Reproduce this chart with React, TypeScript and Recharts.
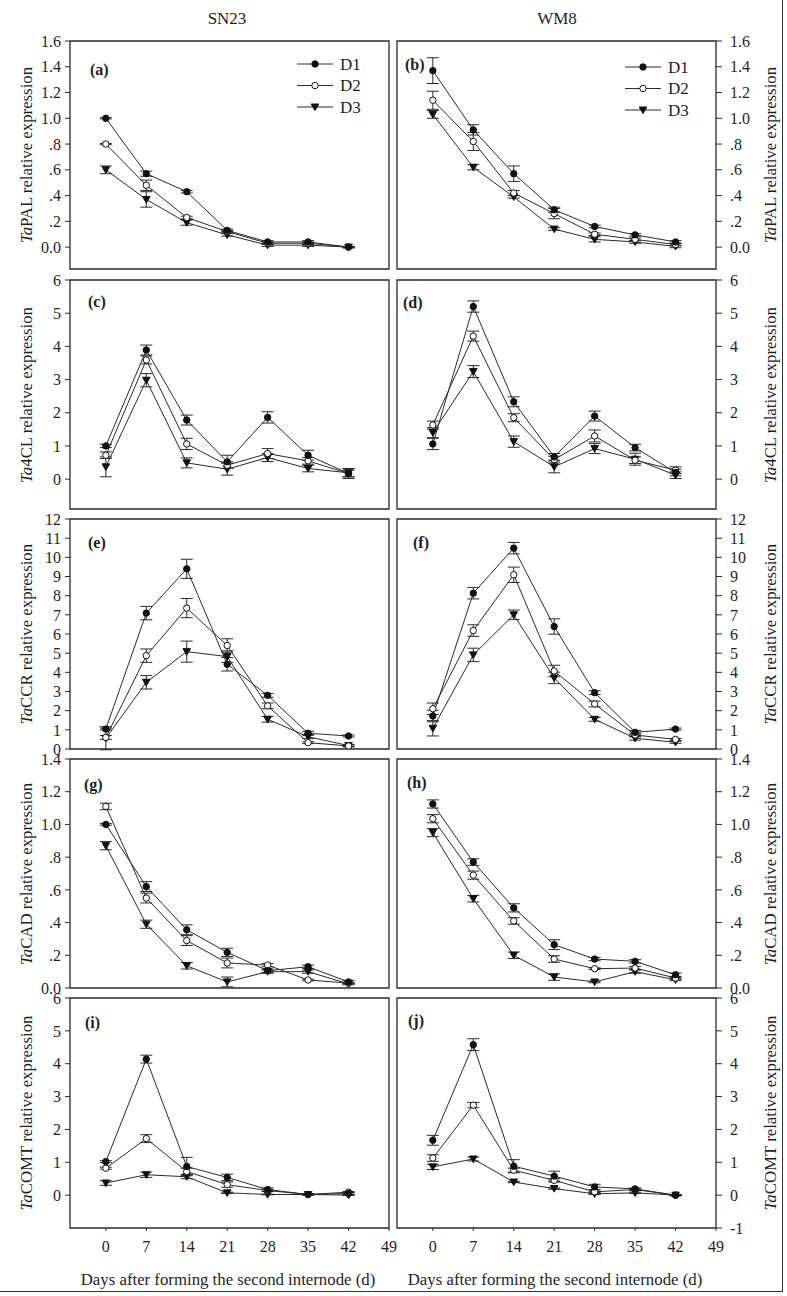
import React from "react";
import { LineChart, Line, XAxis, YAxis, ErrorBar, ReferenceArea } from "recharts";

// sampling days
const days = [0, 7, 14, 21, 28, 35, 42];
const xTicks = [0, 7, 14, 21, 28, 35, 42, 49];

// TaPAL
const palSnD1 = [1.0, 0.57, 0.43, 0.13, 0.04, 0.04, 0.0];
const palSnD2 = [0.8, 0.48, 0.23, 0.12, 0.03, 0.03, 0.0];
const palSnD3 = [0.6, 0.37, 0.19, 0.095, 0.015, 0.015, 0.0];
const palSnD1Err = [0.005, 0.02, 0.01, 0.01, 0.01, 0.01, 0.005];
const palSnD2Err = [0.005, 0.04, 0.01, 0.01, 0.01, 0.01, 0.005];
const palSnD3Err = [0.03, 0.06, 0.02, 0.01, 0.01, 0.01, 0.005];
const palWmD1 = [1.37, 0.91, 0.57, 0.29, 0.16, 0.095, 0.04];
const palWmD2 = [1.14, 0.82, 0.42, 0.26, 0.1, 0.06, 0.02];
const palWmD3 = [1.03, 0.62, 0.39, 0.14, 0.06, 0.04, 0.005];
const palWmD1Err = [0.1, 0.04, 0.06, 0.02, 0.01, 0.01, 0.01];
const palWmD2Err = [0.07, 0.07, 0.02, 0.04, 0.01, 0.01, 0.01];
const palWmD3Err = [0.03, 0.02, 0.01, 0.01, 0.02, 0.01, 0.01];

// Ta4CL
const clSnD1 = [1.0, 3.89, 1.78, 0.52, 1.86, 0.72, 0.17];
const clSnD2 = [0.72, 3.59, 1.06, 0.42, 0.77, 0.55, 0.17];
const clSnD3 = [0.37, 2.98, 0.49, 0.3, 0.65, 0.32, 0.19];
const clSnD1Err = [0.05, 0.15, 0.15, 0.2, 0.17, 0.15, 0.15];
const clSnD2Err = [0.1, 0.12, 0.17, 0.1, 0.15, 0.1, 0.1];
const clSnD3Err = [0.3, 0.2, 0.15, 0.18, 0.12, 0.1, 0.12];
const clWmD1 = [1.06, 5.2, 2.33, 0.67, 1.9, 0.95, 0.2];
const clWmD2 = [1.63, 4.31, 1.85, 0.59, 1.3, 0.57, 0.27];
const clWmD3 = [1.4, 3.24, 1.13, 0.37, 0.92, 0.6, 0.12];
const clWmD1Err = [0.17, 0.17, 0.15, 0.1, 0.15, 0.1, 0.1];
const clWmD2Err = [0.12, 0.15, 0.12, 0.1, 0.18, 0.1, 0.1];
const clWmD3Err = [0.15, 0.18, 0.17, 0.18, 0.15, 0.18, 0.1];

// TaCCR
const ccrSnD1 = [1.04, 7.09, 9.4, 4.42, 2.8, 0.82, 0.68];
const ccrSnD2 = [0.6, 4.87, 7.35, 5.4, 2.25, 0.33, 0.16];
const ccrSnD3 = [0.56, 3.48, 5.08, 4.82, 1.55, 0.64, 0.18];
const ccrSnD1Err = [0.05, 0.35, 0.5, 0.35, 0.1, 0.1, 0.05];
const ccrSnD2Err = [0.1, 0.35, 0.5, 0.35, 0.15, 0.05, 0.05];
const ccrSnD3Err = [0.6, 0.35, 0.55, 0.3, 0.15, 0.1, 0.05];
const ccrWmD1 = [1.72, 8.13, 10.48, 6.39, 2.94, 0.87, 1.04];
const ccrWmD2 = [2.1, 6.18, 9.09, 4.07, 2.35, 0.73, 0.5];
const ccrWmD3 = [1.08, 4.91, 7.0, 3.71, 1.55, 0.56, 0.35];
const ccrWmD1Err = [0.3, 0.3, 0.3, 0.4, 0.1, 0.1, 0.05];
const ccrWmD2Err = [0.3, 0.3, 0.4, 0.3, 0.15, 0.1, 0.05];
const ccrWmD3Err = [0.4, 0.35, 0.25, 0.3, 0.1, 0.1, 0.05];

// TaCAD
const cadSnD1 = [1.0, 0.62, 0.356, 0.218, 0.106, 0.13, 0.037];
const cadSnD2 = [1.11, 0.55, 0.29, 0.153, 0.14, 0.049, 0.03];
const cadSnD3 = [0.87, 0.39, 0.136, 0.037, 0.1, 0.1, 0.025];
const cadSnD1Err = [0.005, 0.03, 0.03, 0.025, 0.01, 0.01, 0.01];
const cadSnD2Err = [0.02, 0.03, 0.03, 0.03, 0.01, 0.005, 0.005];
const cadSnD3Err = [0.025, 0.025, 0.02, 0.03, 0.01, 0.01, 0.005];
const cadWmD1 = [1.125, 0.77, 0.49, 0.265, 0.177, 0.163, 0.081];
const cadWmD2 = [1.035, 0.69, 0.41, 0.177, 0.118, 0.122, 0.061];
const cadWmD3 = [0.95, 0.546, 0.2, 0.067, 0.037, 0.1, 0.05];
const cadWmD1Err = [0.025, 0.02, 0.025, 0.03, 0.01, 0.01, 0.01];
const cadWmD2Err = [0.025, 0.025, 0.02, 0.02, 0.005, 0.01, 0.005];
const cadWmD3Err = [0.025, 0.02, 0.02, 0.02, 0.005, 0.01, 0.005];

// TaCOMT
const comtSnD1 = [1.02, 4.14, 0.87, 0.54, 0.17, 0.02, 0.05];
const comtSnD2 = [0.82, 1.72, 0.72, 0.32, 0.14, 0.02, 0.09];
const comtSnD3 = [0.37, 0.62, 0.56, 0.07, 0.02, 0.02, 0.0];
const comtSnD1Err = [0.03, 0.12, 0.28, 0.1, 0.05, 0.02, 0.03];
const comtSnD2Err = [0.03, 0.12, 0.1, 0.08, 0.03, 0.02, 0.02];
const comtSnD3Err = [0.07, 0.08, 0.06, 0.02, 0.01, 0.01, 0.01];
const comtWmD1 = [1.67, 4.58, 0.88, 0.58, 0.25, 0.19, 0.0];
const comtWmD2 = [1.13, 2.74, 0.76, 0.45, 0.1, 0.17, 0.0];
const comtWmD3 = [0.86, 1.1, 0.4, 0.2, 0.04, 0.07, 0.0];
const comtWmD1Err = [0.15, 0.18, 0.2, 0.15, 0.08, 0.03, 0.02];
const comtWmD2Err = [0.1, 0.08, 0.06, 0.05, 0.02, 0.02, 0.02];
const comtWmD3Err = [0.08, 0.06, 0.02, 0.02, 0.02, 0.02, 0.01];

// tick values
const ticks16 = [0, 0.2, 0.4, 0.6, 0.8, 1.0, 1.2, 1.4, 1.6];
const ticks14 = [0, 0.2, 0.4, 0.6, 0.8, 1.0, 1.2, 1.4];
const ticks6 = [0, 1, 2, 3, 4, 5, 6];
const ticks6neg = [-1, 0, 1, 2, 3, 4, 5, 6];
const ticks12 = [0, 1, 2, 3, 4, 5, 6, 7, 8, 9, 10, 11, 12];

const FONT = "'Liberation Serif', 'Times New Roman', serif";
const INK = "#2a2a2a";
const X_MIN = -6.2;
const X_MAX = 49;

const decFmt = (v: number) =>
  v === 0 ? "0.0" : v < 1 ? "." + Math.round(v * 10) : v.toFixed(1);
const intFmt = (v: number) => String(v);

const buildRows = (
  a: number[], ae: number[], b: number[], be: number[], c: number[], ce: number[]
) =>
  days.map((day, i) => ({
    day,
    d1: a[i], d1e: ae[i],
    d2: b[i], d2e: be[i],
    d3: c[i], d3e: ce[i],
  }));

const FilledDot = ({ cx, cy }: any) => <circle cx={cx} cy={cy} r={3.2} fill="#111" stroke="#111" />;
const OpenDot = ({ cx, cy }: any) => (
  <circle cx={cx} cy={cy} r={3.2} fill="#fff" stroke="#111" strokeWidth={1} />
);
const TriDot = ({ cx, cy }: any) => (
  <path d={`M${cx - 3.8},${cy - 3}L${cx + 3.8},${cy - 3}L${cx},${cy + 3.6}Z`} fill="#111" stroke="#111" />
);

const dotD1 = (p: any) => <FilledDot key={`a${p.index}`} cx={p.cx} cy={p.cy} />;
const dotD2 = (p: any) => <OpenDot key={`b${p.index}`} cx={p.cx} cy={p.cy} />;
const dotD3 = (p: any) => <TriDot key={`c${p.index}`} cx={p.cx} cy={p.cy} />;

type PanelProps = {
  side: "L" | "R";
  top: number;
  bottom: number;
  yMin: number;
  yMax: number;
  ticks: number[];
  fmt: (v: number) => string;
  rows: any[];
  showX?: boolean;
};

function Panel({ side, top, bottom, yMin, yMax, ticks, fmt, rows, showX }: PanelProps) {
  const padT = 12;
  const padB = 12;
  const xH = 34;
  const h = bottom - top;
  const left = side === "L" ? 0 : 393;
  const width = side === "L" ? 402 : 394;
  const height = padT + h + (showX ? xH : padB);
  const margin =
    side === "L"
      ? { top: padT, right: 13, left: 0, bottom: showX ? 0 : padB }
      : { top: padT, right: 5, left: 4, bottom: showX ? 0 : padB };
  const tickStyle = { fill: "#1e1e1e", fontSize: 16, fontFamily: FONT };

  return (
    <div style={{ position: "absolute", left, top: top - padT }}>
      <LineChart width={width} height={height} data={rows} margin={margin}>
        <XAxis
          dataKey="day"
          type="number"
          domain={[X_MIN, X_MAX]}
          allowDataOverflow
          ticks={xTicks}
          hide={!showX}
          height={xH}
          axisLine={false}
          tickSize={3}
          tickMargin={10}
          tickLine={{ stroke: INK }}
          tick={tickStyle}
          interval={0}
        />
        <YAxis
          type="number"
          orientation={side === "L" ? "left" : "right"}
          width={side === "L" ? 70 : 66}
          domain={[yMin, yMax]}
          allowDataOverflow
          ticks={ticks}
          interval={0}
          tickFormatter={fmt}
          axisLine={false}
          tickSize={side === "L" ? 5 : 6}
          tickMargin={side === "L" ? 4 : 8}
          tickLine={{ stroke: INK }}
          tick={{ ...tickStyle, textAnchor: side === "L" ? "end" : "start" }}
        />
        <ReferenceArea
          x1={X_MIN}
          x2={X_MAX}
          y1={yMin}
          y2={yMax}
          fill="none"
          fillOpacity={0}
          stroke={INK}
          strokeWidth={1.3}
        />
        <Line dataKey="d3" type="linear" stroke={INK} strokeWidth={1} dot={dotD3} activeDot={false} isAnimationActive={false}>
          <ErrorBar dataKey="d3e" width={6} stroke={INK} strokeWidth={1} direction="y" />
        </Line>
        <Line dataKey="d2" type="linear" stroke={INK} strokeWidth={1} dot={dotD2} activeDot={false} isAnimationActive={false}>
          <ErrorBar dataKey="d2e" width={6} stroke={INK} strokeWidth={1} direction="y" />
        </Line>
        <Line dataKey="d1" type="linear" stroke={INK} strokeWidth={1} dot={dotD1} activeDot={false} isAnimationActive={false}>
          <ErrorBar dataKey="d1e" width={6} stroke={INK} strokeWidth={1} direction="y" />
        </Line>
      </LineChart>
    </div>
  );
}

// legend shown inside the top two panels
function KeyBox({ x, y }: { x: number; y: number }) {
  const items = [
    { name: "D1", Mark: FilledDot },
    { name: "D2", Mark: OpenDot },
    { name: "D3", Mark: TriDot },
  ];
  return (
    <svg style={{ position: "absolute", left: x, top: y }} width={75} height={66}>
      {items.map((it, i) => {
        const cy = 10 + i * 21.5;
        return (
          <g key={it.name}>
            <line x1={0} x2={36} y1={cy} y2={cy} stroke={INK} strokeWidth={1} />
            <it.Mark cx={18} cy={cy} />
            <text x={43} y={cy + 5.5} fontSize={17} fontFamily={FONT} fill="#1e1e1e">
              {it.name}
            </text>
          </g>
        );
      })}
    </svg>
  );
}

const text = (extra: React.CSSProperties): React.CSSProperties => ({
  position: "absolute",
  fontFamily: FONT,
  color: "#1e1e1e",
  whiteSpace: "nowrap",
  lineHeight: 1,
  ...extra,
});

function YTitle({ x, y, gene }: { x: number; y: number; gene: string }) {
  return (
    <div
      style={text({
        left: x,
        top: y,
        fontSize: 16.8,
        transform: "translate(-50%, -50%) rotate(-90deg)",
      })}
    >
      <i>Ta</i>
      {gene} relative expression
    </div>
  );
}

function Tag({ x, y, s }: { x: number; y: number; s: string }) {
  return (
    <div style={text({ left: x, top: y, fontSize: 16, fontWeight: "bold", transform: "translateY(-50%)" })}>
      {s}
    </div>
  );
}

export default function App() {
  const rowsTop = [41, 280, 519, 759, 998];
  const rowsBot = [269, 509, 749, 988, 1228];
  const genes = ["PAL", "4CL", "CCR", "CAD", "COMT"];

  return (
    <div style={{ position: "absolute", left: 0, top: 0, width: 787, height: 1296, background: "#fff" }}>
      <div
        style={{
          position: "absolute",
          left: 0,
          top: 0,
          width: 783,
          height: 1292,
          boxSizing: "border-box",
          borderRight: "1.5px solid #333",
          borderBottom: "1.5px solid #333",
        }}
      />
      <div style={text({ left: 227, top: 18, fontSize: 17, transform: "translate(-50%, -50%)" })}>SN23</div>
      <div style={text({ left: 557, top: 18, fontSize: 17, transform: "translate(-50%, -50%)" })}>WM8</div>

      <Panel side="L" top={41} bottom={269} yMin={-0.17} yMax={1.6} ticks={ticks16} fmt={decFmt}
        rows={buildRows(palSnD1, palSnD1Err, palSnD2, palSnD2Err, palSnD3, palSnD3Err)} />
      <Panel side="R" top={41} bottom={269} yMin={-0.17} yMax={1.6} ticks={ticks16} fmt={decFmt}
        rows={buildRows(palWmD1, palWmD1Err, palWmD2, palWmD2Err, palWmD3, palWmD3Err)} />
      <Panel side="L" top={280} bottom={509} yMin={-0.9} yMax={6} ticks={ticks6} fmt={intFmt}
        rows={buildRows(clSnD1, clSnD1Err, clSnD2, clSnD2Err, clSnD3, clSnD3Err)} />
      <Panel side="R" top={280} bottom={509} yMin={-0.9} yMax={6} ticks={ticks6} fmt={intFmt}
        rows={buildRows(clWmD1, clWmD1Err, clWmD2, clWmD2Err, clWmD3, clWmD3Err)} />
      <Panel side="L" top={519} bottom={749} yMin={0} yMax={12} ticks={ticks12} fmt={intFmt}
        rows={buildRows(ccrSnD1, ccrSnD1Err, ccrSnD2, ccrSnD2Err, ccrSnD3, ccrSnD3Err)} />
      <Panel side="R" top={519} bottom={749} yMin={0} yMax={12} ticks={ticks12} fmt={intFmt}
        rows={buildRows(ccrWmD1, ccrWmD1Err, ccrWmD2, ccrWmD2Err, ccrWmD3, ccrWmD3Err)} />
      <Panel side="L" top={759} bottom={988} yMin={0} yMax={1.4} ticks={ticks14} fmt={decFmt}
        rows={buildRows(cadSnD1, cadSnD1Err, cadSnD2, cadSnD2Err, cadSnD3, cadSnD3Err)} />
      <Panel side="R" top={759} bottom={988} yMin={0} yMax={1.4} ticks={ticks14} fmt={decFmt}
        rows={buildRows(cadWmD1, cadWmD1Err, cadWmD2, cadWmD2Err, cadWmD3, cadWmD3Err)} />
      <Panel side="L" top={998} bottom={1228} yMin={-1} yMax={6} ticks={ticks6} fmt={intFmt} showX
        rows={buildRows(comtSnD1, comtSnD1Err, comtSnD2, comtSnD2Err, comtSnD3, comtSnD3Err)} />
      <Panel side="R" top={998} bottom={1228} yMin={-1} yMax={6} ticks={ticks6neg} fmt={intFmt} showX
        rows={buildRows(comtWmD1, comtWmD1Err, comtWmD2, comtWmD2Err, comtWmD3, comtWmD3Err)} />

      <KeyBox x={297} y={54} />
      <KeyBox x={625} y={57} />

      {genes.map((g, i) => (
        <React.Fragment key={g}>
          <YTitle x={27} y={(rowsTop[i] + rowsBot[i]) / 2} gene={g} />
          <YTitle x={771} y={(rowsTop[i] + rowsBot[i]) / 2} gene={g} />
        </React.Fragment>
      ))}

      <Tag x={90} y={70} s="(a)" />
      <Tag x={405} y={65} s="(b)" />
      <Tag x={88} y={302} s="(c)" />
      <Tag x={403} y={303} s="(d)" />
      <Tag x={88} y={543} s="(e)" />
      <Tag x={413} y={543} s="(f)" />
      <Tag x={84} y={785} s="(g)" />
      <Tag x={407} y={783} s="(h)" />
      <Tag x={85} y={1023} s="(i)" />
      <Tag x={408} y={1021} s="(j)" />

      <div style={text({ left: 228, top: 1280, fontSize: 16.8, transform: "translate(-50%, -50%)" })}>
        Days after forming the second internode (d)
      </div>
      <div style={text({ left: 555, top: 1280, fontSize: 16.8, transform: "translate(-50%, -50%)" })}>
        Days after forming the second internode (d)
      </div>
    </div>
  );
}
